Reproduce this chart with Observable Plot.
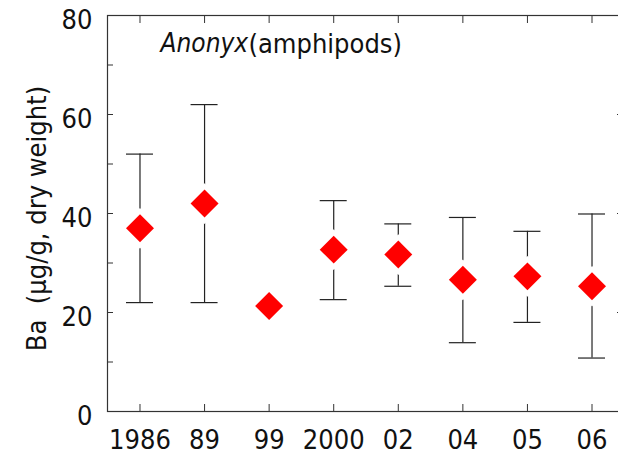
<!DOCTYPE html>
<html><head><meta charset="utf-8">
<script src="https://cdn.jsdelivr.net/npm/d3@7"></script>
<script src="https://cdn.jsdelivr.net/npm/@observablehq/plot@0.6"></script>
<style>
html,body{margin:0;padding:0;background:#fff;overflow:hidden;}
</style></head><body><div id="chart"></div>
<script>
const years = ["1986","89","99","2000","02","04","05","06"];
const means = [37, 42, 21.3, 32.7, 31.7, 26.6, 27.3, 25.3];
const upper = [52, 62, null, 42.6, 37.9, 39.2, 36.4, 39.9];
const lower = [22, 22, null, 22.6, 25.3, 13.9, 18.0, 10.8];
const yTicks = [0, 20, 40, 60, 80];
const yMinorTicks = [0, 10, 20, 30, 40, 50, 60, 70, 80];
const rightTicks = [20, 40, 60];
const titleItalic = "Anonyx";
const titleRest = "(amphipods)";
const yLabel = "Ba  (µg/g, dry weight)";

const data = years.map((year, i) => ({year, mean: means[i], hi: upper[i], lo: lower[i]}));
const bars = data.filter(d => d.hi != null);
const font = "'Liberation Sans Narrow','DejaVu Sans Condensed','Roboto Condensed',sans-serif";
const blank = () => "";

const chart = Plot.plot({
  width: 618, height: 455,
  marginLeft: 107, marginRight: -2, marginTop: 15, marginBottom: 44,
  style: {fontFamily: font, fontSize: "27px", color: "#111", background: "#fff", overflow: "hidden"},
  x: {type: "band", domain: years, range: [107.2, 623.8], paddingInner: 0.582, paddingOuter: 0.291, round: false},
  y: {domain: [0, 80]},
  marks: [
    Plot.ruleX(bars, {x: "year", y1: "lo", y2: "hi", stroke: "#222", strokeWidth: 1.2}),
    Plot.tickY(bars, {x: "year", y: "hi", stroke: "#222", strokeWidth: 1.2}),
    Plot.tickY(bars, {x: "year", y: "lo", stroke: "#222", strokeWidth: 1.2}),
    Plot.dot(data, {x: "year", y: "mean", symbol: "diamond2", r: 12.6, fill: "red", stroke: "white", strokeWidth: 9, paintOrder: "stroke"}),
    Plot.frame({stroke: "#333", strokeWidth: 1.2}),
    Plot.axisY({anchor: "left", ticks: yMinorTicks, tickSize: -6, tickFormat: blank, label: null, stroke: "#333"}),
    Plot.axisY({anchor: "left", ticks: yTicks, tickSize: 0, tickPadding: 15, dy: 5, label: null, fill: "#111"}),
    Plot.axisY({anchor: "right", ticks: rightTicks, tickSize: -4, tickFormat: blank, label: null, stroke: "#333"}),
    Plot.axisX({anchor: "top", tickSize: -7, tickFormat: blank, label: null, stroke: "#333"}),
    Plot.axisX({anchor: "bottom", tickSize: -7, tickFormat: blank, label: null, stroke: "#333"}),
    Plot.axisX({anchor: "bottom", tickSize: 0, tickPadding: 18, label: null, fill: "#111"}),
    Plot.text([titleItalic], {text: d => d, frameAnchor: "top-left", textAnchor: "start", lineAnchor: "top", dx: 53, dy: 18, fontStyle: "italic", fontSize: 26, fill: "#111"}),
    Plot.text([titleRest], {text: d => d, frameAnchor: "top-left", textAnchor: "start", lineAnchor: "top", dx: 141, dy: 18, fontSize: 27, fill: "#111"}),
    Plot.text([yLabel], {text: d => d, frameAnchor: "left", rotate: -90, dx: -70, dy: 5, textAnchor: "middle", lineAnchor: "middle", fill: "#111"})
  ]
});
document.getElementById("chart").append(chart);
</script></body></html>
